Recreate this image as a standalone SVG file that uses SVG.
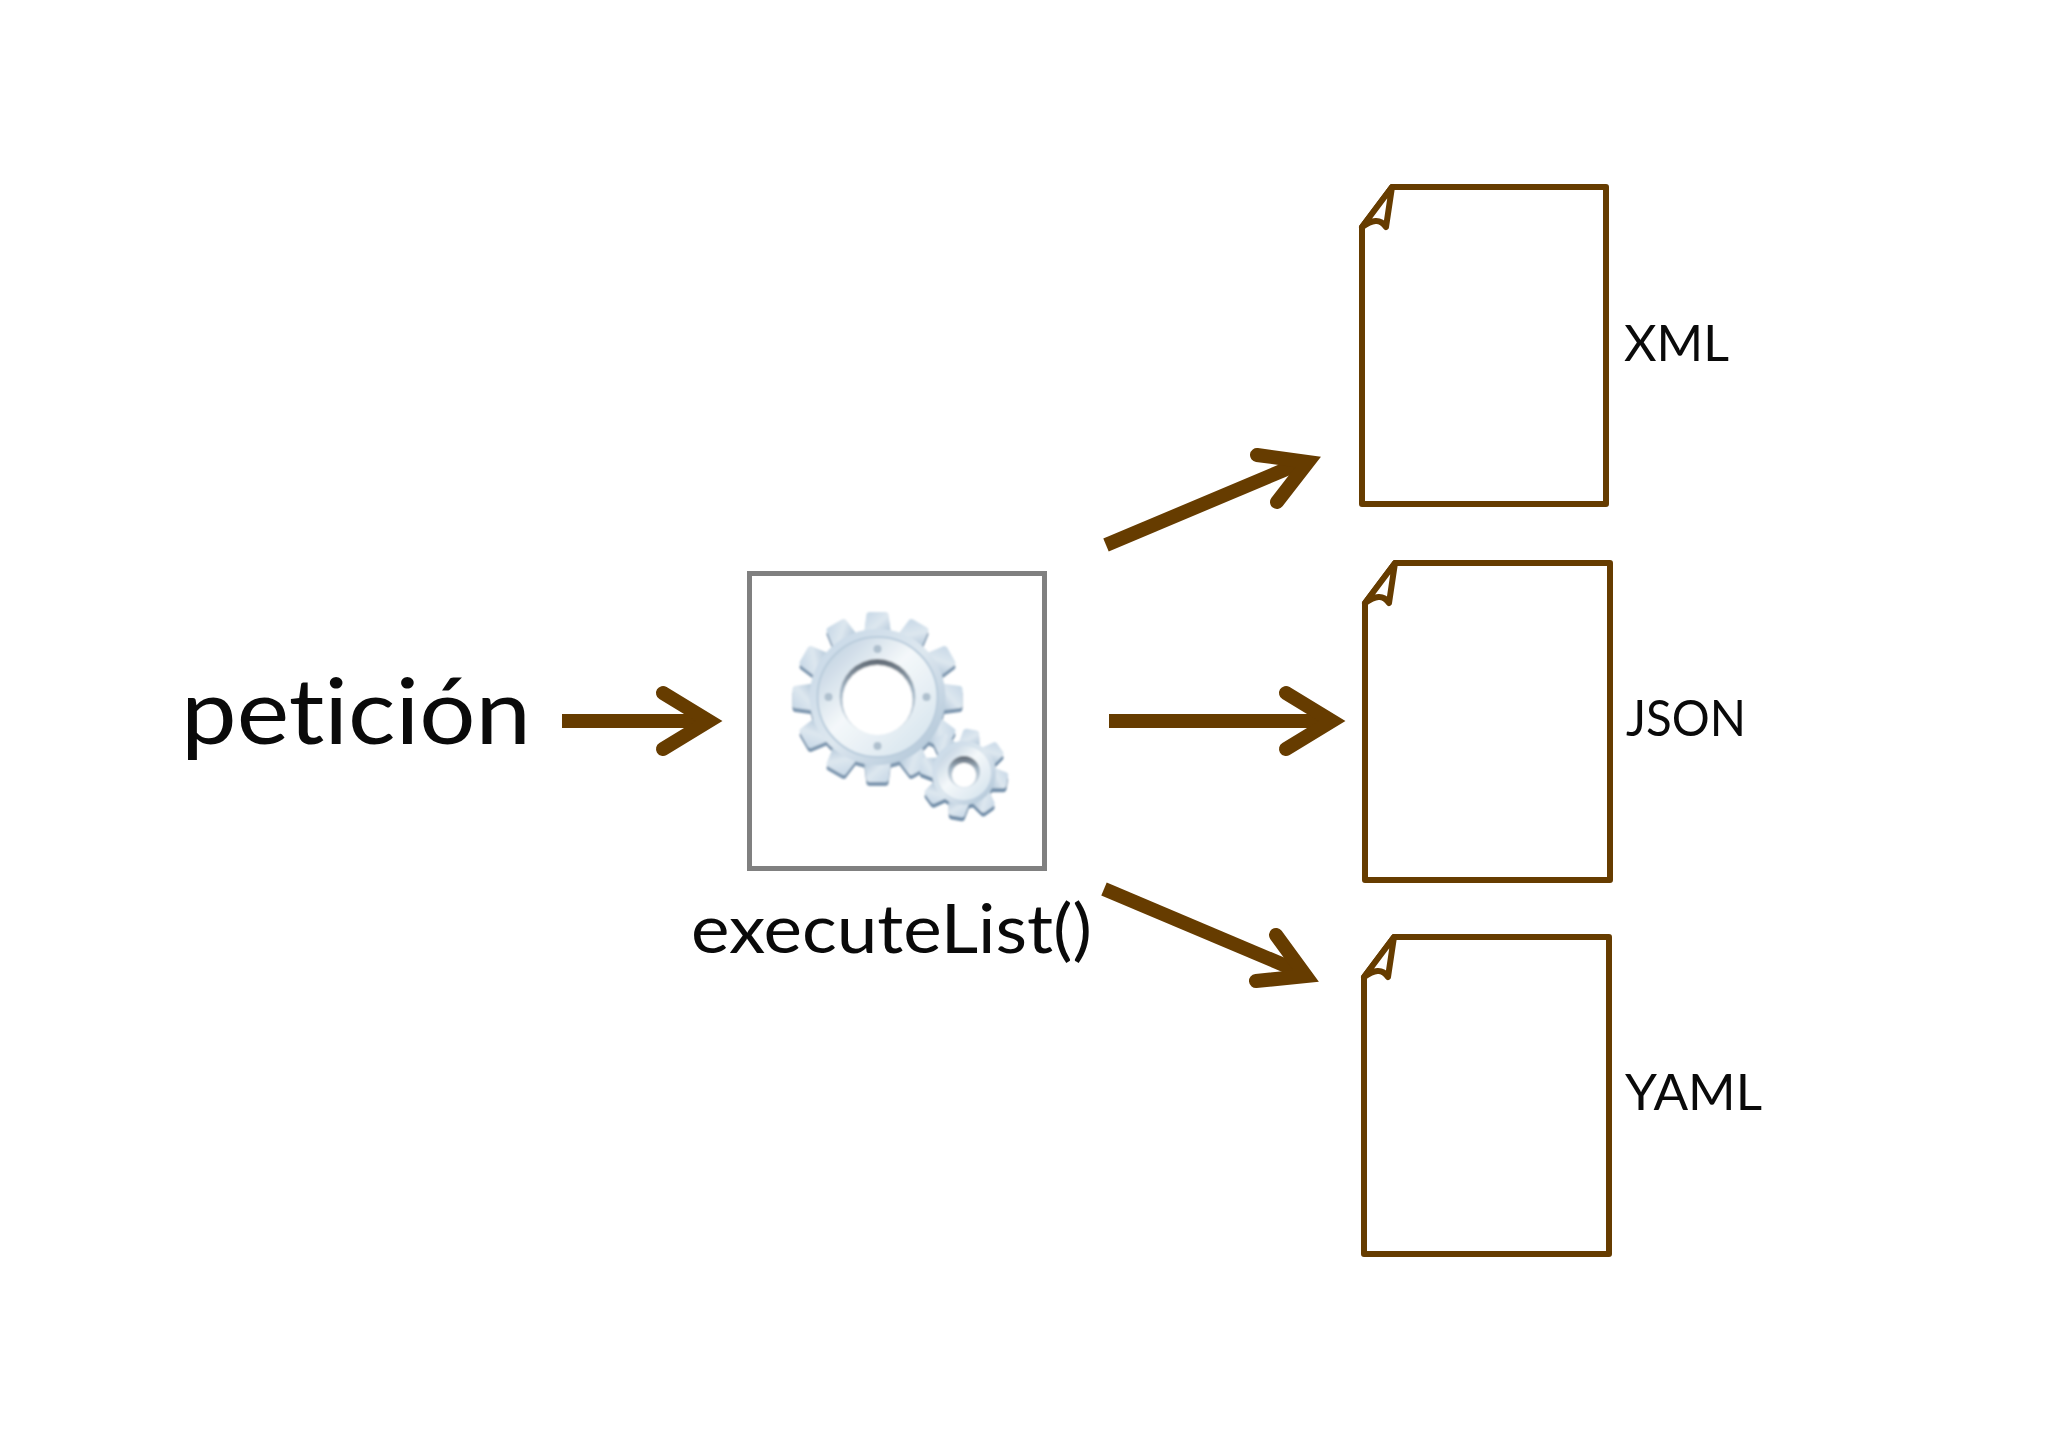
<svg xmlns="http://www.w3.org/2000/svg" width="2048" height="1448" viewBox="0 0 2048 1448">
<style>
text{font-family:"Lato","Open Sans","Liberation Sans",sans-serif;fill:#0a0a0a;font-variant-ligatures:none}
.doc{fill:none;stroke:#663c00;stroke-width:6;stroke-linejoin:round}
.curl{fill:#fff;stroke:#663c00;stroke-width:6;stroke-linejoin:round}
.shaft{stroke:#663c00;stroke-width:14;fill:none}
.head{stroke:#663c00;stroke-width:14;fill:none;stroke-linecap:round;stroke-linejoin:miter}
.lbl{font-size:50px}
</style>
<defs>
<filter id="soft" x="-10%" y="-10%" width="120%" height="120%"><feGaussianBlur stdDeviation="0.8"/></filter>
<linearGradient id="g1" x1="0" y1="0" x2="1" y2="1"><stop offset="0" stop-color="#c4d6e5"/><stop offset="0.5" stop-color="#dde7ef"/><stop offset="1" stop-color="#a9c0d4"/></linearGradient>
<linearGradient id="g2" x1="0" y1="0" x2="1" y2="1"><stop offset="0" stop-color="#b4c8da"/><stop offset="0.45" stop-color="#f4f8fa"/><stop offset="1" stop-color="#d2e1ec"/></linearGradient>
<linearGradient id="g3" x1="0" y1="0" x2="0" y2="1"><stop offset="0" stop-color="#5f6872"/><stop offset="0.4" stop-color="#a4b6c5"/><stop offset="1" stop-color="#dfe8ef"/></linearGradient>
<path id="bt" d="M-14-60L-11-83Q-10-85-8-85H8Q10-85 11-83L14-60Z"/>
<path id="st" d="M-11-26L-8-42Q-7-44-5-44H5Q7-44 8-42L11-26Z"/>
<g id="bigTeeth"><use href="#bt"/><use href="#bt" transform="rotate(30)"/><use href="#bt" transform="rotate(60)"/><use href="#bt" transform="rotate(90)"/><use href="#bt" transform="rotate(120)"/><use href="#bt" transform="rotate(150)"/><use href="#bt" transform="rotate(180)"/><use href="#bt" transform="rotate(210)"/><use href="#bt" transform="rotate(240)"/><use href="#bt" transform="rotate(270)"/><use href="#bt" transform="rotate(300)"/><use href="#bt" transform="rotate(330)"/><circle r="68"/></g>
<g id="smallTeeth"><use href="#st" transform="rotate(10)"/><use href="#st" transform="rotate(55)"/><use href="#st" transform="rotate(100)"/><use href="#st" transform="rotate(145)"/><use href="#st" transform="rotate(190)"/><use href="#st" transform="rotate(235)"/><use href="#st" transform="rotate(280)"/><use href="#st" transform="rotate(325)"/><circle r="32"/></g>
<path id="docCurl" class="curl" d="M30 0L0 40C10 33 18 31 24 40Z"/>
</defs>
<rect width="2048" height="1448" fill="#fff"/>

<g id="connectors">
<g id="arrow-request"><path class="shaft" d="M562 721H705"/><path class="head" d="M663 693L709 721L663 749"/></g>
<g id="arrow-json"><path class="shaft" d="M1109 721H1328"/><path class="head" d="M1286 693L1332 721L1286 749"/></g>
<g id="arrow-xml"><path class="shaft" d="M1106 545L1296 465"/><path class="head" d="M1257 455L1308 462L1277 502"/></g>
<g id="arrow-yaml"><path class="shaft" d="M1104 889L1298 971"/><path class="head" d="M1256 981L1306 976L1276 935"/></g>
</g>

<g id="request"><text x="181" y="744" font-size="92" textLength="350" lengthAdjust="spacingAndGlyphs">petición</text></g>

<g id="process">
<rect x="749.500" y="573.500" width="295" height="295" fill="#fff" stroke="#808080" stroke-width="5"/>
<g filter="url(#soft)">
<g id="gear-big" transform="translate(877.500 697)">
<use href="#bigTeeth" y="4" fill="#7f98b0"/>
<use href="#bigTeeth" fill="url(#g1)"/>
<circle r="60" fill="url(#g2)" stroke="#b9ccdc" stroke-width="2"/>
<circle r="38" fill="url(#g3)"/>
<circle cy="3" r="35" fill="#fff"/>
<circle cy="-48" r="4" fill="#aebfcd"/><circle cy="49" r="4" fill="#aebfcd"/><circle cx="-49" r="4" fill="#aebfcd"/><circle cx="49" r="4" fill="#aebfcd"/>
</g>
<g id="gear-small" transform="translate(964 773)">
<use href="#smallTeeth" y="4" fill="#7490aa"/>
<use href="#smallTeeth" fill="url(#g1)"/>
<circle r="27" fill="url(#g2)"/>
<circle cy="-1" r="16" fill="url(#g3)"/>
<circle cy="2" r="12" fill="#fff"/>
</g>
</g>
<text x="691" y="953" font-size="67" textLength="401" lengthAdjust="spacingAndGlyphs">executeList()</text>
</g>

<g id="doc-xml" transform="translate(1362 187)"><path class="doc" d="M30 0H244V317H0V40Z"/><use href="#docCurl"/><text class="lbl" x="262" y="174" textLength="105" lengthAdjust="spacingAndGlyphs">XML</text></g>
<g id="doc-json" transform="translate(1365 563)"><path class="doc" d="M30 0H245V317H0V40Z"/><use href="#docCurl"/><text class="lbl" x="261" y="173" textLength="120" lengthAdjust="spacingAndGlyphs">JSON</text></g>
<g id="doc-yaml" transform="translate(1364 937)"><path class="doc" d="M30 0H245V317H0V40Z"/><use href="#docCurl"/><text class="lbl" x="261" y="173" textLength="137" lengthAdjust="spacingAndGlyphs">YAML</text></g>
</svg>
